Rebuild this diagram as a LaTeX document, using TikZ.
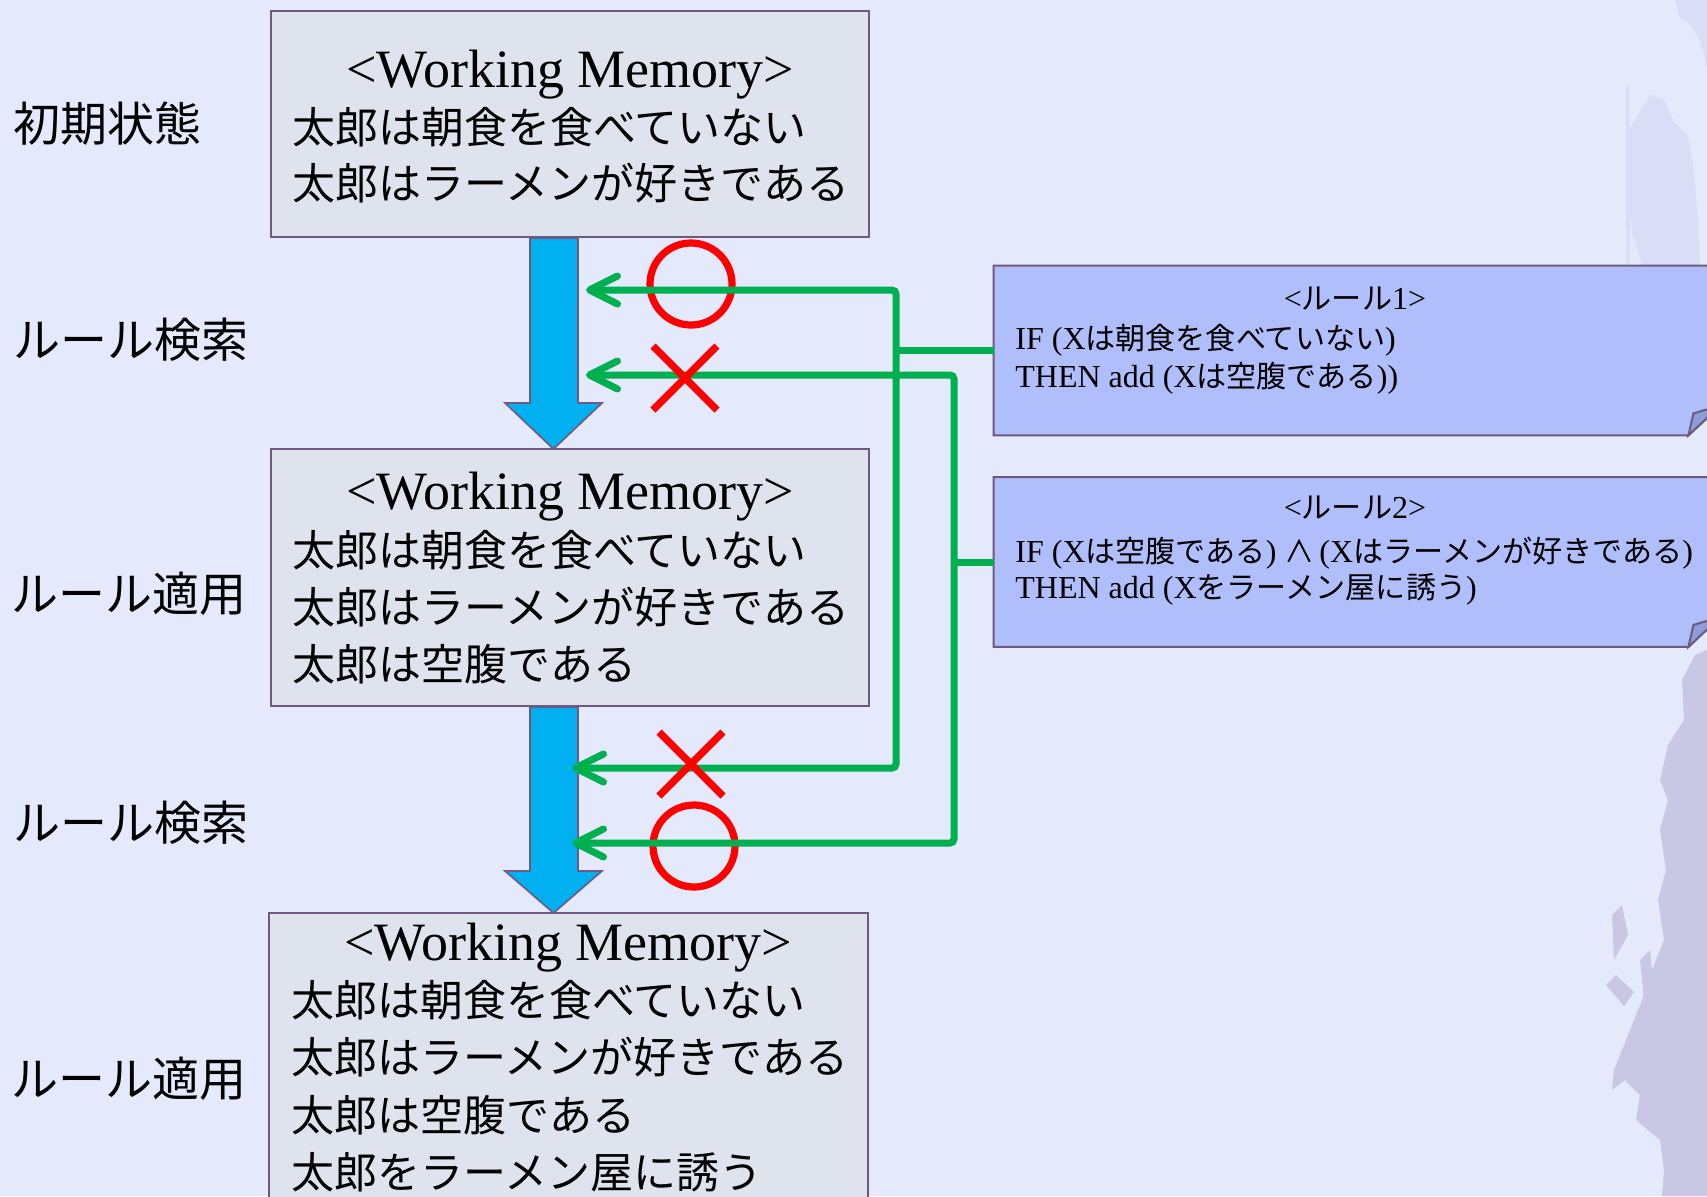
\documentclass[tikz,border=0pt]{standalone}
\usepackage{fontspec}
\setmainfont{Liberation Serif}
\newfontfamily\jpfont{Noto Sans CJK JP}
\newfontfamily\jpsmall[Scale=0.94]{Noto Sans CJK JP}
\usetikzlibrary{arrows.meta}
\definecolor{bg}{RGB}{228,233,252}
\definecolor{wmfill}{RGB}{223,227,237}
\definecolor{edge}{RGB}{110,90,126}
\definecolor{rulefill}{RGB}{176,190,252}
\definecolor{flapfill}{RGB}{140,156,220}
\definecolor{flow}{RGB}{0,176,240}
\definecolor{link}{RGB}{0,176,80}
\definecolor{markred}{RGB}{255,0,0}
\definecolor{deco}{RGB}{200,200,229}
\definecolor{decofaint}{RGB}{217,222,246}
\begin{document}
\begin{tikzpicture}[x=0.5pt,y=-0.5pt,
  wm/.style={draw=edge, line width=1pt, fill=wmfill, inner sep=0pt},
  head/.style={inner sep=0pt, anchor=base, font=\fontsize{27pt}{31pt}\selectfont},
  jline/.style={inner sep=0pt, anchor=base west, font=\fontsize{21.5pt}{26pt}\selectfont\jpfont},
  side/.style={inner sep=0pt, anchor=base west, font=\fontsize{23.5pt}{28pt}\selectfont\jpfont},
  rtext/.style={inner sep=0pt, anchor=base west, font=\fontsize{16pt}{19pt}\selectfont},
  rtitle/.style={inner sep=0pt, anchor=base, font=\fontsize{16pt}{19pt}\selectfont},
  rulebox/.style={inner sep=0pt, minimum width=363pt, minimum height=84.5pt},
  ruleshape/.style={fill=rulefill, draw=edge, line width=1pt, line join=miter},
  flowarrow/.style={fill=flow, draw=edge, line width=0.8pt, line join=miter},
  gline/.style={draw=link, line width=3.5pt, rounded corners=2pt,
    arrows={Straight Barb[length=14pt,width=14pt,round]-Straight Barb[length=14pt,width=14pt,round]}},
  gbranch/.style={draw=link, line width=3.5pt},
  okmark/.style={draw=markred, line width=3.6pt},
  ngmark/.style={draw=markred, line width=3.6pt},
]
% page and backdrop
\useasboundingbox (0,0) rectangle (1707,1196);
\clip (0,0) rectangle (1707,1196);
\fill[bg] (0,0) rectangle (1707,1196);

% brush texture at the right edge: faint strokes at the top
\fill[decofaint] (1675,0) -- (1707,0) -- (1707,68) -- (1700,40) -- (1690,24) -- (1680,18) -- cycle;
\fill[decofaint] (1650,95) -- (1664,100) -- (1674,122) -- (1688,136) -- (1694,172)
  -- (1698,222) -- (1700,265) -- (1642,265) -- (1632,232) -- (1626,172) -- (1630,128) -- cycle;
\fill[decofaint] (1626,85) -- (1629,85) -- (1630,265) -- (1626,265) -- cycle;
% darker splash at the bottom
\fill[deco] (1707,650) -- (1695,655) -- (1682,680) -- (1684,720) -- (1668,745) -- (1660,780)
  -- (1668,800) -- (1660,830) -- (1666,870) -- (1658,900) -- (1664,940) -- (1650,975)
  -- (1642,1000) -- (1630,1030) -- (1614,1070) -- (1612,1090) -- (1625,1080) -- (1640,1095)
  -- (1636,1120) -- (1660,1140) -- (1664,1170) -- (1662,1196) -- (1707,1196) -- cycle;
\fill[deco] (1612,915) -- (1622,905) -- (1628,935) -- (1614,960) -- cycle;
\fill[deco] (1606,985) -- (1616,975) -- (1634,992) -- (1624,1006) -- cycle;
\fill[deco] (1640,960) -- (1650,950) -- (1654,990) -- (1644,1000) -- cycle;

% side captions
\node[side] (s1) at (13,141) {初期状態};
\node[side] (s2) at (13,357) {ルール検索};
\node[side] (s3) at (11,611) {ルール適用};
\node[side] (s4) at (13,840) {ルール検索};
\node[side] (s5) at (11,1096) {ルール適用};

% working memory states
\node[wm, minimum width=299pt, minimum height=113pt] (wm1) at (570,124) {};
\node[wm, minimum width=299pt, minimum height=128.5pt] (wm2) at (570,577.5) {};
\node[wm, minimum width=299.5pt, minimum height=153.5pt] (wm3) at (568.5,1066.5) {};

\node[head] (h1) at (570,87) {<Working Memory>};
\node[jline] (w1a) at (292,143) {太郎は朝食を食べていない};
\node[jline] (w1b) at (292,199) {太郎はラーメンが好きである};

\node[head] (h2) at (570,509) {<Working Memory>};
\node[jline] (w2a) at (292,566) {太郎は朝食を食べていない};
\node[jline] (w2b) at (292,623) {太郎はラーメンが好きである};
\node[jline] (w2c) at (292,680) {太郎は空腹である};

\node[head] (h3) at (568,960) {<Working Memory>};
\node[jline] (w3a) at (291,1016) {太郎は朝食を食べていない};
\node[jline] (w3b) at (291,1073) {太郎はラーメンが好きである};
\node[jline] (w3c) at (291,1131) {太郎は空腹である};
\node[jline] (w3d) at (291,1188) {太郎をラーメン屋に誘う};

% block arrows between states
\draw[flowarrow] (wm1.south) ++(-40,0) -- ++(0,165) -- ++(-25,0) -- ++(48.5,46)
  -- ++(48.5,-46) -- ++(-24,0) -- ++(0,-165) -- cycle;
\draw[flowarrow] (wm2.south) ++(-40,0) -- ++(0,164) -- ++(-25,0) -- ++(48.5,42)
  -- ++(48.5,-42) -- ++(-24,0) -- ++(0,-164) -- cycle;

% rules
\node[rulebox] (r1) at (1357,350.5) {};
\node[rulebox] (r2) at (1357,562) {};
\foreach \r in {r1,r2}{
  \path[ruleshape] (\r.north west) -- (\r.north east) -- ([yshift=15pt]\r.south east)
    -- ([xshift=-16pt]\r.south east) -- (\r.south west) -- cycle;
  \path[fill=flapfill, draw=edge, line width=1pt, line join=miter]
    ([xshift=-16pt]\r.south east) -- ([xshift=-13.5pt,yshift=11pt]\r.south east)
    -- ([yshift=15pt]\r.south east) -- cycle;
}
\node[rtitle] (r1t) at (1355,309) {<{\jpsmall ルール}1>};
\node[rtext] (r1a) at (1015,349) {IF (X{\jpsmall は朝食を食べていない})};
\node[rtext] (r1b) at (1015,387) {THEN add (X{\jpsmall は空腹である}))};
\node[rtitle] (r2t) at (1355,518) {<{\jpsmall ルール}2>};
\node[rtext] (r2a) at (1015,562) {IF (X{\jpsmall は空腹である}) {\jpsmall ∧}\hspace{0.15em}(X{\jpsmall はラーメンが好きである})};
\node[rtext] (r2b) at (1015,598) {THEN add (X{\jpsmall をラーメン屋に誘う})};

% match marks: circles below the links
\coordinate (o1) at (691,284);
\coordinate (o2) at (694,846);
\draw[okmark] (o1) circle[radius=20.5pt];
\draw[okmark] (o2) circle[radius=20.5pt];

% links from the rules to the searches
\coordinate (t1) at (586,290);
\coordinate (t2) at (586,375);
\coordinate (t3) at (572,768);
\coordinate (t4) at (572,843);
\coordinate (k1) at (896,290);
\coordinate (k2) at (896,768);
\coordinate (k3) at (954,375);
\coordinate (k4) at (954,843);
\draw[gline] (t1) -- (k1) -- (k2) -- (t3);
\draw[gline] (t2) -- (k3) -- (k4) -- (t4);
\draw[gbranch] (r1.west) -- (r1.west -| k1);
\draw[gbranch] (r2.west) -- (r2.west -| k3);

% failed matches
\coordinate (x1) at (685,378);
\coordinate (x2) at (691,764);
\draw[ngmark] (x1) ++(-32,-32) -- ++(64,64) (x1) ++(-32,32) -- ++(64,-64);
\draw[ngmark] (x2) ++(-32,-32) -- ++(64,64) (x2) ++(-32,32) -- ++(64,-64);
\end{tikzpicture}
\end{document}
